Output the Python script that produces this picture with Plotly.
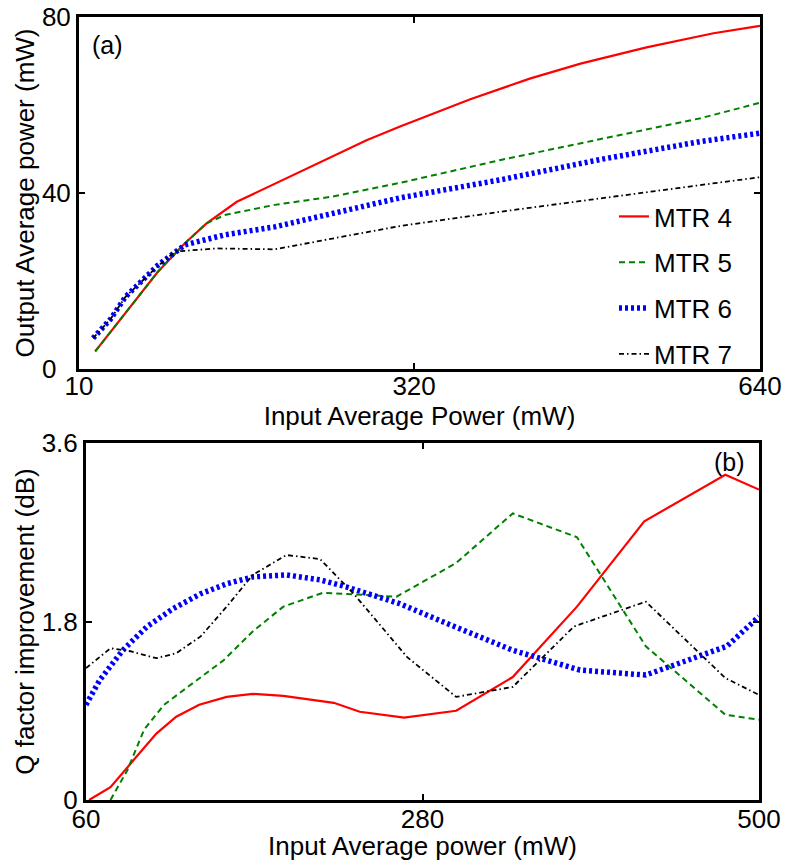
import plotly.graph_objects as go

# ---------------- data: panel (a) ----------------
a_mtr4_x = [25, 53, 83, 108, 128, 156, 179, 230, 276, 307, 341, 372, 427, 474, 535, 597, 640]
a_mtr4_y = [4.0, 12.7, 22.1, 28.6, 33.1, 38.0, 40.7, 46.7, 52.0, 55.1, 58.4, 61.3, 66.0, 69.4, 73.1, 76.3, 78.0]

a_mtr5_x = [25, 53, 83, 108, 128, 145, 191, 245, 307, 400, 492, 585, 640]
a_mtr5_y = [4.0, 12.7, 22.1, 28.6, 33.1, 35.0, 37.3, 39.2, 42.3, 47.5, 52.2, 57.0, 60.5]

a_mtr6_x = [23, 39, 53, 83, 108, 145, 191, 245, 307, 400, 492, 585, 640]
a_mtr6_y = [7.0, 11.3, 16.4, 23.6, 28.2, 30.5, 32.3, 35.5, 38.9, 43.0, 47.6, 51.7, 53.6]

a_mtr7_x = [23, 39, 53, 83, 99, 137, 191, 245, 307, 400, 492, 585, 640]
a_mtr7_y = [7.0, 11.3, 16.4, 23.4, 26.7, 27.4, 27.2, 29.7, 32.5, 35.75, 38.8, 41.8, 43.6]

# ---------------- data: panel (b) ----------------
b_mtr4_x = [62, 76, 91, 106, 119, 134, 152, 169, 189, 222, 239, 268, 302, 339, 381, 425, 478, 500]
b_mtr4_y = [0.0, 0.13, 0.40, 0.67, 0.84, 0.96, 1.04, 1.07, 1.05, 0.98, 0.89, 0.83, 0.90, 1.24, 1.95, 2.81, 3.28, 3.13]

b_mtr5_x = [76, 87, 98, 111, 130, 150, 169, 189, 215, 263, 302, 339, 381, 426, 478, 500]
b_mtr5_y = [0.0, 0.30, 0.71, 0.96, 1.18, 1.41, 1.70, 1.95, 2.09, 2.05, 2.39, 2.89, 2.65, 1.55, 0.86, 0.81]

b_mtr6_x = [60, 69, 84, 100, 117, 135, 152, 169, 191, 213, 230, 265, 296, 339, 383, 426, 479, 500]
b_mtr6_y = [0.96, 1.21, 1.51, 1.75, 1.93, 2.08, 2.18, 2.25, 2.27, 2.22, 2.15, 1.98, 1.78, 1.51, 1.31, 1.26, 1.55, 1.85]

b_mtr7_x = [60, 76, 89, 106, 119, 135, 152, 169, 191, 213, 235, 270, 302, 339, 379, 426, 478, 500]
b_mtr7_y = [1.33, 1.53, 1.50, 1.43, 1.48, 1.65, 1.95, 2.27, 2.47, 2.43, 2.08, 1.44, 1.04, 1.14, 1.75, 2.00, 1.23, 1.06]

names = ["MTR 4", "MTR 5", "MTR 6", "MTR 7"]
a_x_ticks = [10, 320, 640]
a_y_ticks = [0, 40, 80]
a_y_ticktext = ["0\u00a0\u00a0", "40", "80"]
b_x_ticks = [60, 280, 500]
b_y_ticks = [0, 1.8, 3.6]

styles = [
    dict(color="#ff0000", width=2.2, dash="solid"),
    dict(color="#008000", width=2, dash="6px,4px"),
    dict(color="#0000ff", width=5.5, dash="3px,3px"),
    dict(color="#000000", width=1.8, dash="5px,3px,1.5px,3px"),
]

FONT = "Liberation Sans, Arial, sans-serif"
W, H = 786, 861

fig = go.Figure()
a_data = [(a_mtr4_x, a_mtr4_y), (a_mtr5_x, a_mtr5_y), (a_mtr6_x, a_mtr6_y), (a_mtr7_x, a_mtr7_y)]
b_data = [(b_mtr4_x, b_mtr4_y), (b_mtr5_x, b_mtr5_y), (b_mtr6_x, b_mtr6_y), (b_mtr7_x, b_mtr7_y)]
for i, (xs, ys) in enumerate(a_data):
    fig.add_trace(go.Scatter(x=xs, y=ys, mode="lines", name=names[i], line=styles[i],
                             xaxis="x", yaxis="y", legendgroup=f"g{i}", showlegend=True))
for i, (xs, ys) in enumerate(b_data):
    fig.add_trace(go.Scatter(x=xs, y=ys, mode="lines", name=names[i], line=styles[i],
                             xaxis="x2", yaxis="y2", legendgroup=f"g{i}", showlegend=False))

axis_common = dict(showline=True, linecolor="black", linewidth=3, mirror="ticks",
                   ticks="inside", ticklen=6, tickwidth=2, tickcolor="black",
                   showgrid=False, zeroline=False,
                   tickfont=dict(family=FONT, size=26, color="black"),
                   title_font=dict(family=FONT, size=26, color="black"))

fig.update_layout(
    width=W, height=H,
    margin=dict(l=0, r=0, t=0, b=0),
    paper_bgcolor="white", plot_bgcolor="white",
    font=dict(family=FONT, size=26, color="black"),
    xaxis=dict(domain=[79 / W, 760 / W], anchor="y", range=[10, 640], tickvals=a_x_ticks,
               ticklabelstandoff=-8,
               title=dict(text="Input Average Power (mW)", standoff=0), automargin=False, **axis_common),
    yaxis=dict(domain=[(H - 369) / H, (H - 17) / H], anchor="x", range=[0, 80], tickvals=a_y_ticks,
               ticktext=a_y_ticktext,
               title=dict(text="Output Average power (mW)", standoff=0), automargin=False, **axis_common),
    xaxis2=dict(domain=[86 / W, 759 / W], anchor="y2", range=[60, 500], tickvals=b_x_ticks,
                ticklabelstandoff=-6,
                title=dict(text="Input Average power (mW)", standoff=0), automargin=False, **axis_common),
    yaxis2=dict(domain=[(H - 800) / H, (H - 443) / H], anchor="x2", range=[0, 3.6], tickvals=b_y_ticks,
                title=dict(text="Q factor improvement (dB)", standoff=0), automargin=False, **axis_common),
    legend=dict(x=614 / W, y=(H - 193) / H, xanchor="left", yanchor="top",
                bgcolor="rgba(0,0,0,0)", borderwidth=0, tracegroupgap=9,
                font=dict(family=FONT, size=26, color="black")),
    annotations=[
        dict(text="(a)", x=90 / W, y=(H - 45) / H, xref="paper", yref="paper",
             xanchor="left", yanchor="middle", showarrow=False,
             font=dict(family=FONT, size=25, color="black")),
        dict(text="(b)", x=747 / W, y=(H - 462) / H, xref="paper", yref="paper",
             xanchor="right", yanchor="middle", showarrow=False,
             font=dict(family=FONT, size=25, color="black")),
    ],
)

fig.write_html("out.html")
